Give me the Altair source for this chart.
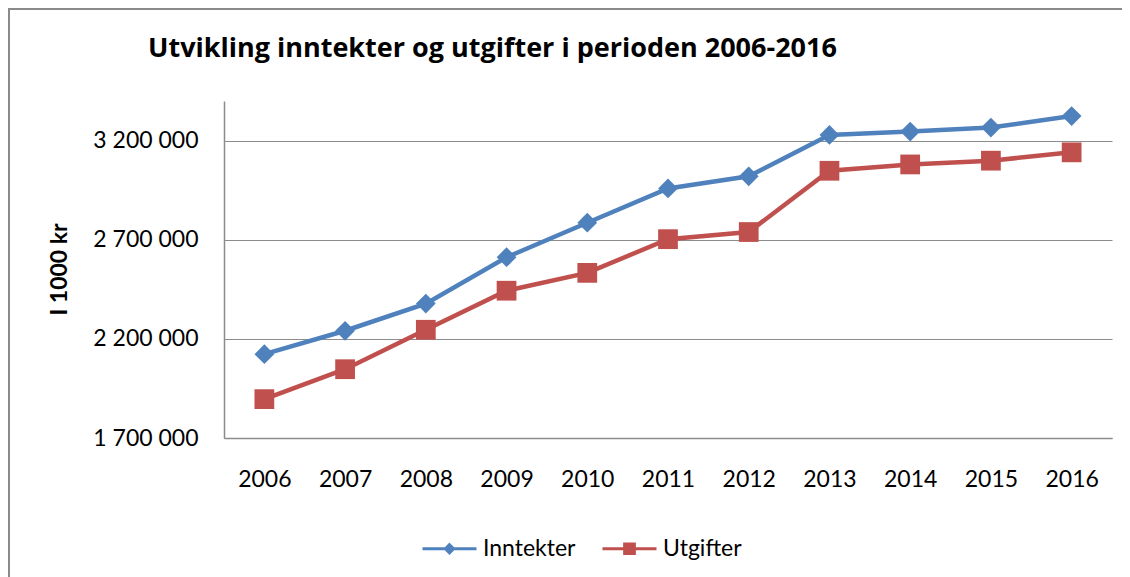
import altair as alt
import pandas as pd

years = ["2006", "2007", "2008", "2009", "2010", "2011", "2012", "2013", "2014", "2015", "2016"]
inntekter = [2123000, 2241000, 2378000, 2612000, 2786000, 2959000, 3020000, 3229000, 3246000, 3266000, 3324000]
utgifter = [1896000, 2047000, 2246000, 2443000, 2533000, 2703000, 2739000, 3048000, 3080000, 3099000, 3141000]
series_names = ["Inntekter", "Utgifter"]
series_colors = ["#4F81BD", "#C0504D"]
y_ticks = [1700000, 2200000, 2700000, 3200000]

rows = []
for name, vals in zip(series_names, [inntekter, utgifter]):
    for yr, v in zip(years, vals):
        rows.append({"year": yr, "value": v, "series": name})
df = pd.DataFrame(rows)

FONT = "Lato"
W, H = 888, 337

x_enc = alt.X("year:N", sort=years,
              scale=alt.Scale(paddingInner=0, paddingOuter=0),
              axis=alt.Axis(title=None, labelAngle=0, ticks=False, grid=False,
                            labelFontSize=23, labelFont=FONT, labelColor="#000000",
                            labelPadding=41, labelBaseline="middle",
                            domainColor="#8c8c8c", domainWidth=1.5))
y_enc = alt.Y("value:Q",
              scale=alt.Scale(domain=[1700000, 3400000], nice=False, zero=False),
              axis=alt.Axis(title="I 1000 kr", values=y_ticks, ticks=False,
                            labelExpr="replace(replace(format(datum.value, ','), ',', ' '), ',', ' ')",
                            labelFontSize=23, labelFont=FONT, labelColor="#000000",
                            labelPadding=26,
                            gridColor="#8c8c8c", gridWidth=1.2,
                            domainColor="#8c8c8c", domainWidth=1.5,
                            titleFont=FONT, titleFontSize=23, titleFontWeight="bold",
                            titleColor="#000000", titleX=-165, titleY=168,
                            titleAlign="center", titleBaseline="middle", titleAngle=270))

color_scale = alt.Scale(domain=series_names, range=series_colors)

frame = alt.Chart(pd.DataFrame({"a": [0]})).mark_rect(
    fill="transparent", stroke="#8a8a8a", strokeWidth=2
).encode(
    x=alt.value(-215), x2=alt.value(1000), y=alt.value(-92), y2=alt.value(700)
)

base = alt.Chart(df)

lines = base.mark_line(strokeWidth=4.5).encode(
    x=x_enc, y=y_enc,
    color=alt.Color("series:N", scale=color_scale, legend=None),
    detail="series:N",
)

pts_inn = base.transform_filter(alt.datum.series == "Inntekter").mark_point(
    filled=True, opacity=1, size=390, shape="diamond"
).encode(
    x=alt.X("year:N", sort=years),
    y=alt.Y("value:Q"),
    color=alt.Color("series:N", scale=color_scale, legend=None),
)
pts_utg = base.transform_filter(alt.datum.series == "Utgifter").mark_point(
    filled=True, opacity=1, size=390, shape="square"
).encode(
    x=alt.X("year:N", sort=years),
    y=alt.Y("value:Q"),
    color=alt.Color("series:N", scale=color_scale, legend=None),
)

# legend symbols: a line with a solid marker (nested outlines stroked so the marker reads as filled)
legend_paths = [
    "M-1,0L1,0M0,-0.15L0.15,0L0,0.15L-0.15,0ZM0,-0.07L0.07,0L0,0.07L-0.07,0Z",
    "M-1,0L1,0M-0.18,-0.18L0.18,-0.18L0.18,0.18L-0.18,0.18ZM-0.1,-0.1L0.1,-0.1L0.1,0.1L-0.1,0.1ZM-0.03,-0.03L0.03,-0.03L0.03,0.03L-0.03,0.03Z",
]
leg = alt.Legend(title=None, orient="none", legendX=197, legendY=419, direction="horizontal",
                 labelFont=FONT, labelFontSize=23, labelColor="#000000",
                 symbolSize=2916, symbolStrokeWidth=3, symbolOpacity=1,
                 labelOffset=5, columnPadding=20, padding=0)
legend_layer = base.mark_point(filled=False, size=0, strokeWidth=3, opacity=1).encode(
    x=alt.X("year:N", sort=years),
    y=alt.Y("value:Q"),
    color=alt.Color("series:N", scale=color_scale, legend=leg),
    shape=alt.Shape("series:N", scale=alt.Scale(domain=series_names, range=legend_paths), legend=leg),
)

chart = alt.layer(frame, lines, pts_inn, pts_utg, legend_layer).resolve_scale(
    color="independent", shape="independent"
).properties(
    width=W, height=H,
    autosize=alt.AutoSizeParams(type="none"),
    padding={"left": 216, "top": 93, "right": 10, "bottom": 139},
    title=alt.TitleParams(
        "Utvikling inntekter og utgifter i perioden 2006-2016",
        anchor="start", frame="group", font="Open Sans", fontSize=27, fontWeight="bold",
        color="#000000", dx=-76, dy=106, baseline="alphabetic", offset=30,
    ),
).configure(background="white").configure_view(stroke=None)

chart.save("out.html", embed_options={"renderer": "svg", "actions": False})
